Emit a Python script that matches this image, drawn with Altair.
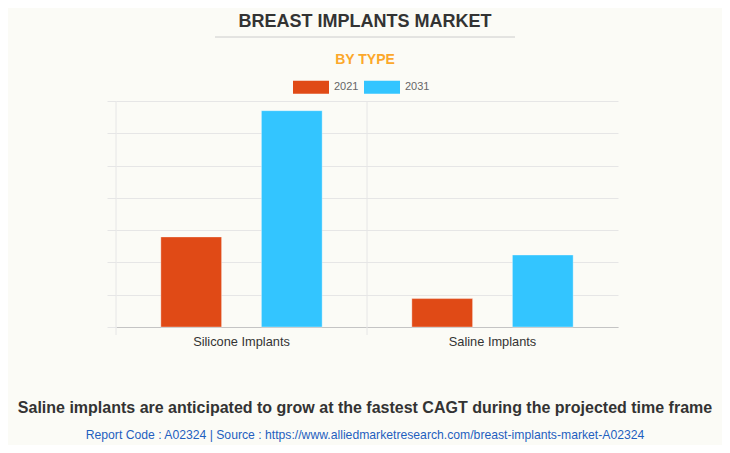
import altair as alt
import pandas as pd

categories = ["Silicone Implants", "Saline Implants"]
years = ["2021", "2031"]
values_2021 = [2.79, 0.88]
values_2031 = [6.70, 2.23]
colors = ["#E04A16", "#33C5FF"]

title_text = "BREAST IMPLANTS MARKET"
subtitle_text = "BY TYPE"
footer_text = "Saline implants are anticipated to grow at the fastest CAGT during the projected time frame"
source_text = "Report Code : A02324  |  Source : https://www.alliedmarketresearch.com/breast-implants-market-A02324"

rows = []
for c, v1, v2 in zip(categories, values_2021, values_2031):
    rows.append({"type": c, "year": years[0], "value": v1})
    rows.append({"type": c, "year": years[1], "value": v2})
df = pd.DataFrame(rows)

FONT = "Liberation Sans"
W, H = 502, 226

xscale = alt.Scale(domain=categories, paddingInner=0, paddingOuter=0)
xaxis = alt.Axis(title=None, labelAngle=0, labelFontSize=12.8, labelColor="#333333",
                 labelFont=FONT, ticks=False, grid=False, domainColor="#c4c4c4",
                 labelPadding=8, bandPosition=0.5)

bars = alt.Chart(df).mark_bar(stroke="#ffffff", strokeOpacity=0.35, strokeWidth=1).encode(
    x=alt.X("type:N", sort=categories, scale=xscale, axis=xaxis),
    xOffset=alt.XOffset("year:N", scale=alt.Scale(domain=years, paddingInner=0.396, paddingOuter=0.446)),
    y=alt.Y("value:Q", scale=alt.Scale(domain=[0, 7], nice=False),
            axis=alt.Axis(title=None, labels=False, values=list(range(8)), tickSize=9,
                          tickColor="#e6e6e6", gridColor="#e6e6e6", domain=False)),
    color=alt.Color("year:N", scale=alt.Scale(domain=years, range=colors),
                    legend=alt.Legend(title=None, orient="none", legendX=177, legendY=-32,
                                      direction="horizontal", labelFontSize=11, labelColor="#666666",
                                      labelFont=FONT, symbolType="M-1,-0.36H1V0.36H-1Z",
                                      symbolSize=1296, symbolStrokeWidth=0, symbolOpacity=1,
                                      labelOffset=5, columnPadding=5)),
)

sep = alt.Chart(pd.DataFrame({"type": categories})).mark_rule(color="#e6e6e6", strokeWidth=1).encode(
    x=alt.X("type:N", sort=categories, scale=xscale, bandPosition=0, axis=xaxis),
    y=alt.value(0), y2=alt.value(234),
)

def text_layer(t, x, y, size, color, weight="normal"):
    return alt.Chart(pd.DataFrame({"t": [t]})).mark_text(
        font=FONT, fontSize=size, color=color, fontWeight=weight, align="center", baseline="alphabetic"
    ).encode(text="t:N", x=alt.value(x), y=alt.value(y))

title = text_layer(title_text, 249, -74, 18, "#333333", "bold")
subtitle = text_layer(subtitle_text, 249, -37, 14, "#FBA82B", "bold")
footer = text_layer(footer_text, 249, 312, 16, "#333333", "bold")
source = text_layer(source_text, 249, 338, 12.2, "#1F5FBF")

line = alt.Chart(pd.DataFrame({"a": [0]})).mark_rule(color="#cccccc", strokeWidth=1).encode(
    x=alt.value(99), x2=alt.value(399), y=alt.value(-64)
)

chart = alt.layer(sep, bars, title, subtitle, line, footer, source).properties(
    width=W, height=H,
    autosize=alt.AutoSizeParams(type="none"),
    padding={"left": 108, "top": 93, "right": 104, "bottom": 118},
    background="#FBFBF6",
).configure_view(stroke=None)

chart.save("out.html", embed_options={"renderer": "svg", "actions": False})
